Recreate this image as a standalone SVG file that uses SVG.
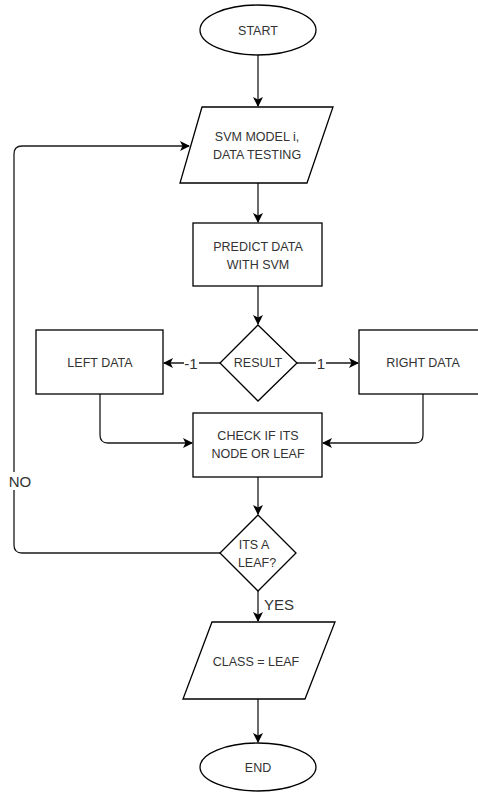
<svg xmlns="http://www.w3.org/2000/svg" width="478" height="792" viewBox="0 0 478 792">
  <style>
    .shape { fill: #ffffff; stroke: #000000; stroke-width: 1.3; }
    .label { font-family: "Liberation Sans", Arial, sans-serif; font-size: 12.5px; fill: #333333; text-anchor: middle; dominant-baseline: central; }
    .edge-label { font-family: "Liberation Sans", Arial, sans-serif; font-size: 15px; fill: #333333; dominant-baseline: central; }
    .wire { fill: none; stroke: #1a1a1a; stroke-width: 1.3; }
  </style>
  <defs>
    <marker id="arrow" viewBox="0 0 10 10" refX="9" refY="5" markerWidth="10" markerHeight="10" markerUnits="userSpaceOnUse" orient="auto">
      <path d="M0,0 L10,5 L0,10 L2.5,5 Z" fill="#000000"/>
    </marker>
  </defs>
  <rect width="478" height="792" fill="#ffffff"/>

  <g id="connectors">
    <path class="wire" d="M258,55 V106" marker-end="url(#arrow)"/>
    <path class="wire" d="M258,183 V222" marker-end="url(#arrow)"/>
    <path class="wire" d="M258,286 V324" marker-end="url(#arrow)"/>
    <path class="wire" d="M220,363 H164" marker-end="url(#arrow)"/>
    <path class="wire" d="M297,363 H358" marker-end="url(#arrow)"/>
    <path class="wire" d="M100,394 V435 Q100,443 108,443 H192" marker-end="url(#arrow)"/>
    <path class="wire" d="M423,394 V435 Q423,443 415,443 H323" marker-end="url(#arrow)"/>
    <path class="wire" d="M258,477 V514" marker-end="url(#arrow)"/>
    <path class="wire" d="M220,553 H22 Q14,553 14,545 V154 Q14,146 22,146 H189" marker-end="url(#arrow)"/>
    <path class="wire" d="M258,591 V621" marker-end="url(#arrow)"/>
    <path class="wire" d="M258,699 V742" marker-end="url(#arrow)"/>
    <!-- edge labels with white backing -->
    <rect x="184" y="354" width="15" height="18" fill="#ffffff"/>
    <text class="edge-label" x="191" y="363" text-anchor="middle">-1</text>
    <rect x="316" y="354" width="10" height="18" fill="#ffffff"/>
    <text class="edge-label" x="321" y="363" text-anchor="middle">1</text>
    <rect x="7" y="472" width="26" height="18" fill="#ffffff"/>
    <text class="edge-label" x="20" y="481" text-anchor="middle">NO</text>
    <text class="edge-label" x="264" y="604">YES</text>
  </g>

  <g id="start">
    <ellipse class="shape" cx="258" cy="30" rx="58" ry="25"/>
    <text class="label" x="258" y="31">START</text>
  </g>

  <g id="svm-model">
    <polygon class="shape" points="202,107 333,107 307,183 180,183"/>
    <text class="label" x="257" y="137">SVM MODEL i,</text>
    <text class="label" x="257" y="155">DATA TESTING</text>
  </g>

  <g id="predict">
    <rect class="shape" x="193" y="223" width="129" height="63"/>
    <text class="label" x="258" y="247">PREDICT DATA</text>
    <text class="label" x="258" y="265">WITH SVM</text>
  </g>

  <g id="result">
    <polygon class="shape" points="258,325 297,363 258,401 220,363"/>
    <text class="label" x="258" y="363">RESULT</text>
  </g>

  <g id="left-data">
    <rect class="shape" x="36" y="330" width="127" height="64"/>
    <text class="label" x="100" y="363">LEFT DATA</text>
  </g>

  <g id="right-data">
    <rect class="shape" x="359" y="330" width="128" height="64"/>
    <text class="label" x="423" y="363">RIGHT DATA</text>
  </g>

  <g id="check">
    <rect class="shape" x="193" y="413" width="129" height="64"/>
    <text class="label" x="258" y="436">CHECK IF ITS</text>
    <text class="label" x="258" y="454">NODE OR LEAF</text>
  </g>

  <g id="is-leaf">
    <polygon class="shape" points="258,515 296,553 258,591 220,553"/>
    <text class="label" x="254" y="545">ITS A</text>
    <text class="label" x="257" y="563">LEAF?</text>
  </g>

  <g id="class-leaf">
    <polygon class="shape" points="212,622 335,622 305,699 183,699"/>
    <text class="label" x="256" y="662">CLASS = LEAF</text>
  </g>

  <g id="end">
    <ellipse class="shape" cx="258" cy="767" rx="58" ry="24"/>
    <text class="label" x="258" y="768">END</text>
  </g>
</svg>
